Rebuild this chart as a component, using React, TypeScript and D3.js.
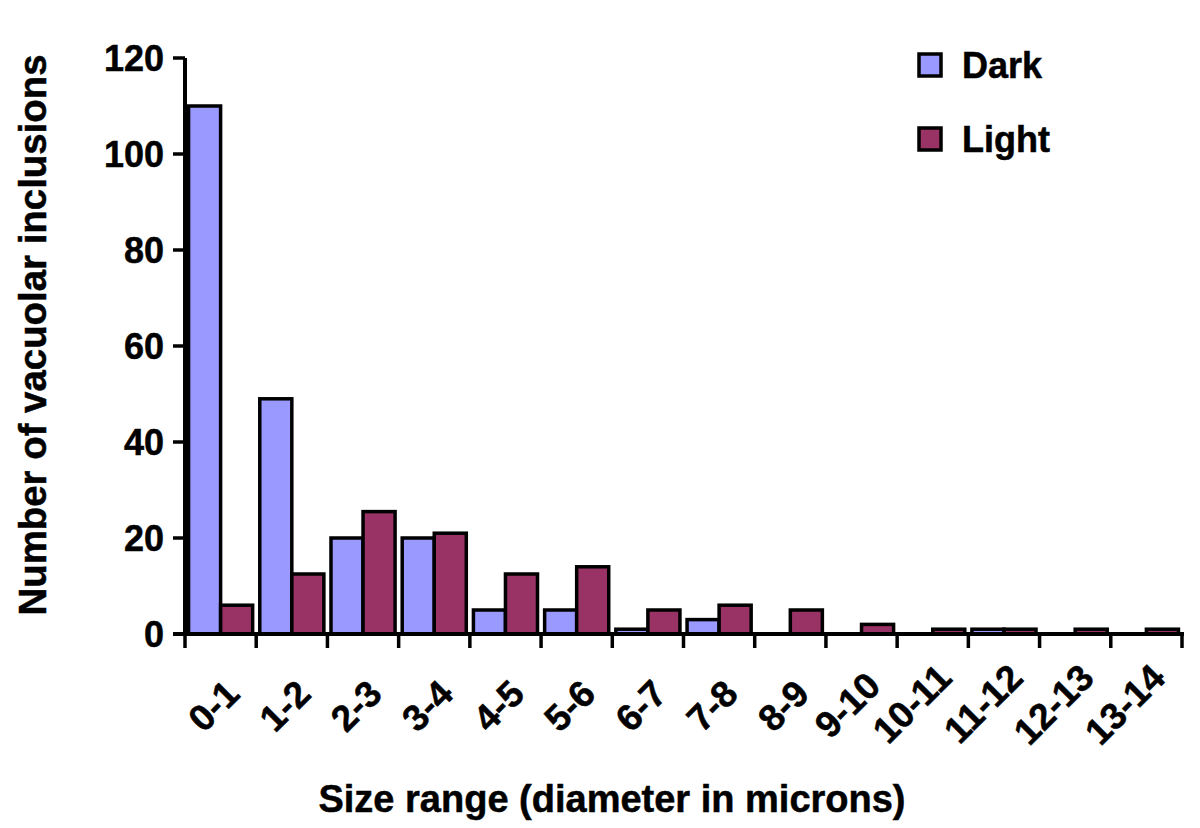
import React from "react";
import * as d3 from "d3";

const categories = ["0-1", "1-2", "2-3", "3-4", "4-5", "5-6", "6-7", "7-8", "8-9", "9-10", "10-11", "11-12", "12-13", "13-14"];
const darkValues = [110, 49, 20, 20, 5, 5, 1, 3, 0, 0, 0, 1, 0, 0];
const lightValues = [6, 12.5, 25.5, 21, 12.5, 14, 5, 6, 5, 2, 1, 1, 1, 1];
const seriesNames = ["Dark", "Light"];
const seriesColors = ["#9999FF", "#993366"];
const yTicks = [0, 20, 40, 60, 80, 100, 120];

const W = 1200;
const H = 828;
const left = 185;
const right = 1182;
const top = 58;
const bottom = 634;
const FONT = "'Liberation Sans', Arial, Helvetica, sans-serif";

export default function App() {
  const x = d3.scaleBand<string>().domain(categories).range([left, right]).paddingInner(0.1).paddingOuter(0.05);
  const xSub = d3.scaleBand<string>().domain(seriesNames).range([0, x.bandwidth()]).padding(0);
  const y = d3.scaleLinear().domain([0, 120]).range([bottom, top]);
  const step = (right - left) / categories.length;
  const series = [darkValues, lightValues];

  return (
    <svg width={W} height={H} style={{ position: "absolute", left: 0, top: 0, background: "#fff" }} fontFamily={FONT} fontWeight="bold">
      <rect x={0} y={0} width={W} height={H} fill="#fff" />
      {/* bars */}
      {categories.map((c, i) => (
        <g key={c}>
          {series.map((vals, s) => {
            const v = vals[i];
            if (v <= 0) return null;
            const bx = (x(c) as number) + (xSub(seriesNames[s]) as number);
            return (
              <rect
                key={s}
                x={bx}
                y={y(v)}
                width={xSub.bandwidth()}
                height={y(0) - y(v)}
                fill={seriesColors[s]}
                stroke="#000"
                strokeWidth={3.5}
              />
            );
          })}
        </g>
      ))}
      {/* y axis */}
      <line x1={left} x2={left} y1={y(120)} y2={bottom + 2} stroke="#000" strokeWidth={4} />
      {yTicks.map((t) => (
        <g key={t}>
          <line x1={left - 12} x2={left} y1={y(t)} y2={y(t)} stroke="#000" strokeWidth={3.5} />
          <text x={left - 21} y={y(t)} dy="0.36em" textAnchor="end" fontSize={36} stroke="#000" strokeWidth={0.5}>
            {t}
          </text>
        </g>
      ))}
      {/* x axis */}
      <line x1={left - 12} x2={right + 2} y1={bottom} y2={bottom} stroke="#000" strokeWidth={4} />
      {d3.range(categories.length + 1).map((i) => (
        <line key={i} x1={left + i * step} x2={left + i * step} y1={bottom} y2={bottom + 14} stroke="#000" strokeWidth={3.5} />
      ))}
      {categories.map((c) => {
        const cx = (x(c) as number) + x.bandwidth() / 2 + 21;
        const cy = bottom + 62 - 8 * (c.length - 3);
        return (
          <text key={c} transform={`translate(${cx},${cy}) rotate(-45)`} textAnchor="end" fontSize={37} stroke="#000" strokeWidth={0.5}>
            {c}
          </text>
        );
      })}
      {/* axis titles */}
      <text x={612} y={812} textAnchor="middle" fontSize={38} stroke="#000" strokeWidth={0.5}>
        Size range (diameter in microns)
      </text>
      <text transform={`translate(46,335) rotate(-90)`} textAnchor="middle" fontSize={38.4} stroke="#000" strokeWidth={0.5}>
        Number of vacuolar inclusions
      </text>
      {/* legend */}
      {seriesNames.map((n, i) => (
        <g key={n} transform={`translate(919,${54 + i * 74})`}>
          <rect x={0} y={0} width={22} height={22} fill={seriesColors[i]} stroke="#000" strokeWidth={3.5} />
          <text x={43} y={24} fontSize={36} stroke="#000" strokeWidth={0.5}>
            {n}
          </text>
        </g>
      ))}
    </svg>
  );
}
